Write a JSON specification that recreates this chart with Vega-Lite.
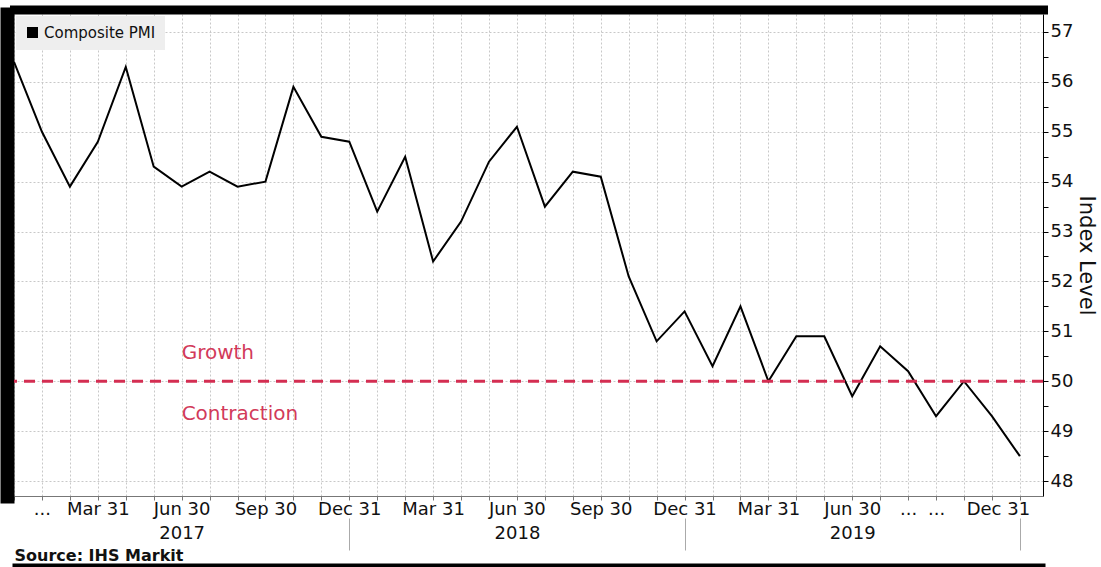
{
  "$schema": "https://vega.github.io/schema/vega-lite/v6.json",
  "width": 1029,
  "height": 482,
  "autosize": {"type": "none"},
  "padding": {"left": 14, "top": 14, "right": 58, "bottom": 71},
  "background": "white",
  "config": {"font": "DejaVu Sans", "view": {"stroke": null}},
  "data": {
    "values": [
      {"month": "2016-12", "value": 56.4},
      {"month": "2017-01", "value": 55.0},
      {"month": "2017-02", "value": 53.9},
      {"month": "2017-03", "value": 54.8},
      {"month": "2017-04", "value": 56.3},
      {"month": "2017-05", "value": 54.3},
      {"month": "2017-06", "value": 53.9},
      {"month": "2017-07", "value": 54.2},
      {"month": "2017-08", "value": 53.9},
      {"month": "2017-09", "value": 54.0},
      {"month": "2017-10", "value": 55.9},
      {"month": "2017-11", "value": 54.9},
      {"month": "2017-12", "value": 54.8},
      {"month": "2018-01", "value": 53.4},
      {"month": "2018-02", "value": 54.5},
      {"month": "2018-03", "value": 52.4},
      {"month": "2018-04", "value": 53.2},
      {"month": "2018-05", "value": 54.4},
      {"month": "2018-06", "value": 55.1},
      {"month": "2018-07", "value": 53.5},
      {"month": "2018-08", "value": 54.2},
      {"month": "2018-09", "value": 54.1},
      {"month": "2018-10", "value": 52.1},
      {"month": "2018-11", "value": 50.8},
      {"month": "2018-12", "value": 51.4},
      {"month": "2019-01", "value": 50.3},
      {"month": "2019-02", "value": 51.5},
      {"month": "2019-03", "value": 50.0},
      {"month": "2019-04", "value": 50.9},
      {"month": "2019-05", "value": 50.9},
      {"month": "2019-06", "value": 49.7},
      {"month": "2019-07", "value": 50.7},
      {"month": "2019-08", "value": 50.2},
      {"month": "2019-09", "value": 49.3},
      {"month": "2019-10", "value": 50.0},
      {"month": "2019-11", "value": 49.3},
      {"month": "2019-12", "value": 48.5}
    ]
  },
  "layer": [
    {
      "mark": {"type": "line", "color": "black", "strokeWidth": 2},
      "encoding": {
        "x": {
          "field": "month", "type": "ordinal",
          "scale": {"type": "point", "padding": 0.414, "align": 0},
          "axis": {
            "orient": "bottom", "title": null, "labelAngle": 0, "labelOverlap": false, "labelFlush": false,
            "labelExpr": "datum.value == '2016-12' ? '' : (datum.value == '2017-01' || datum.value == '2019-08' || datum.value == '2019-09') ? '...' : substring(datum.value,5,7) == '03' ? 'Mar 31' : substring(datum.value,5,7) == '06' ? 'Jun 30' : substring(datum.value,5,7) == '09' ? 'Sep 30' : substring(datum.value,5,7) == '12' ? 'Dec 31' : ''",
            "grid": true, "gridColor": "#c8c8c8", "gridDash": [2, 2],
            "domainColor": "#777", "tickColor": "#777", "tickSize": 4,
            "labelPadding": 0, "labelFontSize": 18, "labelColor": "#111",
            "labelOffset": {"condition": {"test": "datum.value === '2019-12'", "value": -22}, "value": 0}
          }
        },
        "y": {
          "field": "value", "type": "quantitative",
          "scale": {"domain": [47.7, 57.36], "nice": false, "zero": false},
          "axis": {
            "orient": "right",
            "values": [48, 48.5, 49, 49.5, 50, 50.5, 51, 51.5, 52, 52.5, 53, 53.5, 54, 54.5, 55, 55.5, 56, 56.5, 57],
            "labelExpr": "datum.value % 1 === 0 ? format(datum.value, 'd') : ''",
            "grid": true, "gridColor": "#c8c8c8", "gridDash": [2, 2],
            "gridOpacity": {"condition": {"test": "datum.value % 1 !== 0", "value": 0}, "value": 1},
            "domainColor": "black", "tickColor": "black", "tickSize": 5,
            "labelFontSize": 18, "labelColor": "#111", "labelPadding": 2,
            "title": "Index Level", "titleFontSize": 21, "titleFontWeight": "normal", "titleColor": "#111", "titlePadding": 3
          }
        },
        "color": {
          "datum": "Composite PMI", "type": "nominal",
          "scale": {"range": ["black"]},
          "legend": {
            "title": null, "orient": "top-left", "offset": 2, "fillColor": "#eeeeee", "padding": 9,
            "symbolType": "square", "symbolSize": 121, "symbolFillColor": "black", "symbolStrokeColor": "black", "symbolStrokeWidth": 0,
            "labelFontSize": 15, "labelColor": "#111", "labelOffset": 4
          }
        }
      }
    },
    {
      "data": {"values": [{"level": 50}]},
      "mark": {"type": "rule", "color": "#d42e52", "strokeWidth": 3, "strokeDash": [11, 7]},
      "encoding": {
        "y": {"field": "level", "type": "quantitative", "axis": null}
      }
    },
    {
      "data": {"values": [
        {"label": "Growth", "month": "2017-06", "value": 50.57},
        {"label": "Contraction", "month": "2017-06", "value": 49.34}
      ]},
      "mark": {"type": "text", "align": "left", "baseline": "middle", "fontSize": 20, "color": "#d23a5a"},
      "encoding": {
        "x": {"field": "month", "type": "ordinal", "axis": null},
        "y": {"field": "value", "type": "quantitative", "axis": null},
        "text": {"field": "label"}
      }
    },
    {
      "mark": {"type": "point", "opacity": 0},
      "encoding": {
        "x": {
          "field": "month", "type": "ordinal",
          "axis": {
            "orient": "bottom", "title": null, "values": ["2017-06", "2018-06", "2019-06"],
            "labelExpr": "substring(datum.value, 0, 4)", "labelAngle": 0, "labelOverlap": false,
            "domain": false, "ticks": false, "tickSize": 0, "grid": false,
            "labelPadding": 28, "labelFontSize": 18, "labelColor": "#111"
          }
        },
        "y": {"field": "value", "type": "quantitative", "axis": null}
      }
    },
    {
      "mark": {"type": "point", "opacity": 0},
      "encoding": {
        "x": {
          "field": "month", "type": "ordinal",
          "axis": {
            "orient": "bottom", "values": ["2017-12", "2018-12", "2019-12"],
            "offset": 22, "tickSize": 32, "tickColor": "#aaaaaa", "domain": false, "labels": false, "grid": false,
            "title": "Source: IHS Markit", "titleAnchor": "start", "titleAlign": "left", "titleBaseline": "top",
            "titleFontSize": 16, "titleFontWeight": "bold", "titleColor": "#111", "titlePadding": -3
          }
        },
        "y": {"field": "value", "type": "quantitative", "axis": null}
      }
    },
    {
      "mark": {"type": "point", "opacity": 0},
      "encoding": {
        "x": {
          "field": "month", "type": "ordinal",
          "axis": {
            "orient": "top", "title": null, "labels": false, "ticks": false, "grid": false,
            "domain": true, "domainColor": "black", "domainWidth": 9, "offset": 4.5, "domainCap": "square"
          }
        },
        "y": {
          "field": "value", "type": "quantitative",
          "axis": {
            "orient": "left", "title": null, "labels": false, "ticks": false, "grid": false,
            "domain": true, "domainColor": "black", "domainWidth": 14, "offset": 7, "domainCap": "square"
          }
        }
      }
    },
    {
      "mark": {"type": "point", "opacity": 0},
      "encoding": {
        "x": {
          "field": "month", "type": "ordinal",
          "axis": {
            "orient": "bottom", "title": null, "labels": false, "ticks": false, "grid": false,
            "domain": true, "domainColor": "black", "domainWidth": 4, "offset": 69, "domainCap": "square"
          }
        },
        "y": {"field": "value", "type": "quantitative", "axis": null}
      }
    }
  ],
  "resolve": {"axis": {"x": "independent", "y": "independent"}}
}
